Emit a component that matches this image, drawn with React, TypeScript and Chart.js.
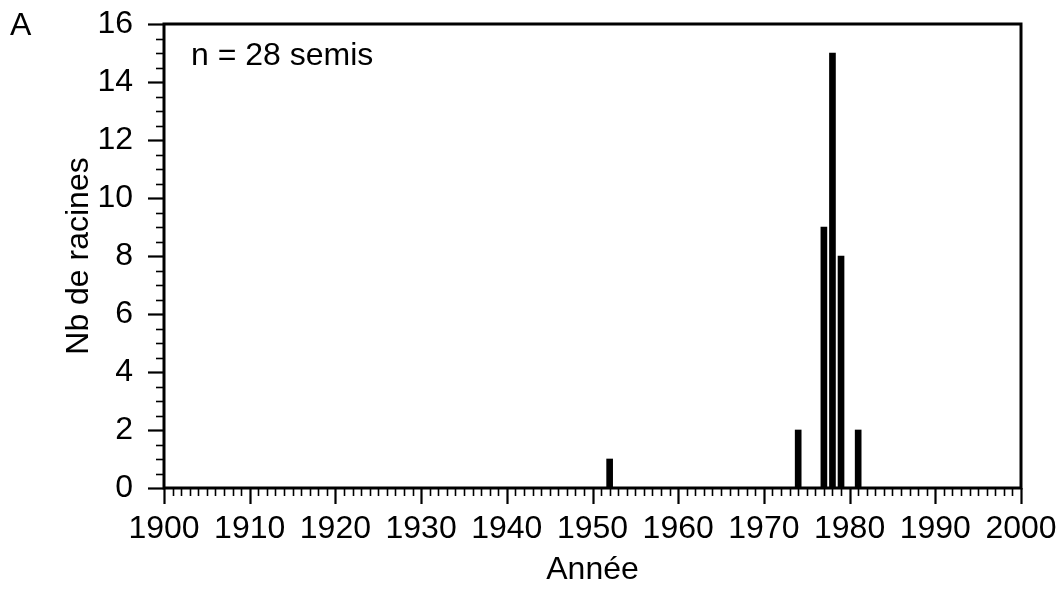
import React, { useEffect, useRef } from "react";
import { Chart, registerables } from "chart.js";

Chart.register(...registerables);

// Root counts per germination year
const years = [1952, 1974, 1977, 1978, 1979, 1981];
const rootCounts = [1, 2, 9, 15, 8, 2];

const xMin = 1900;
const xMax = 2000;
const xStep = 10;
const yMin = 0;
const yMax = 16;
const yStep = 2;

const panelLabel = "A";
const sampleNote = "n = 28 semis";
const xTitle = "Année";
const yTitle = "Nb de racines";

const FONT = "'Liberation Sans', Arial, Helvetica, sans-serif";
const FONT_SIZE = 32;

// Frame around the plot area plus major/minor tick marks on both axes
const frameAndTicks = {
  id: "frameAndTicks",
  afterDatasetsDraw(chart: any) {
    const { ctx, chartArea, scales } = chart;
    const x = scales.x;
    const y = scales.y;
    ctx.save();
    ctx.strokeStyle = "#000";
    ctx.lineCap = "butt";

    // x ticks: minor every year, major every decade
    for (let v = xMin; v <= xMax; v += 1) {
      const px = Math.round(x.getPixelForValue(v)) + 0.5;
      const major = v % xStep === 0;
      ctx.lineWidth = major ? 2.2 : 1.6;
      ctx.beginPath();
      ctx.moveTo(px, chartArea.bottom);
      ctx.lineTo(px, chartArea.bottom + (major ? 16 : 8));
      ctx.stroke();
    }

    // y ticks: minor every 0.5, major every 2
    for (let v = yMin; v <= yMax + 1e-9; v += 0.5) {
      const py = Math.round(y.getPixelForValue(v)) + 0.5;
      const major = Math.abs(v % yStep) < 1e-9;
      ctx.lineWidth = major ? 2.2 : 1.6;
      ctx.beginPath();
      ctx.moveTo(chartArea.left, py);
      ctx.lineTo(chartArea.left - (major ? 16 : 8), py);
      ctx.stroke();
    }

    // plot frame
    ctx.lineWidth = 3;
    ctx.strokeRect(
      chartArea.left,
      chartArea.top,
      chartArea.right - chartArea.left,
      chartArea.bottom - chartArea.top
    );
    ctx.restore();
  },
  afterDraw(chart: any) {
    const { ctx, chartArea } = chart;
    ctx.save();
    ctx.fillStyle = "#000";
    ctx.font = `${FONT_SIZE}px ${FONT}`;
    ctx.textBaseline = "alphabetic";
    ctx.textAlign = "left";
    ctx.fillText(panelLabel, 10, 35);
    ctx.fillText(sampleNote, chartArea.left + 27, 65);
    ctx.restore();
  },
};

export default function App() {
  const canvasRef = useRef<HTMLCanvasElement | null>(null);

  useEffect(() => {
    if (!canvasRef.current) return;
    const chart = new Chart(canvasRef.current, {
      type: "bar",
      data: {
        datasets: [
          {
            data: years.map((yr, i) => ({ x: yr, y: rootCounts[i] })),
            backgroundColor: "#000",
            borderWidth: 0,
            barThickness: 6,
          },
        ],
      },
      options: {
        responsive: false,
        animation: false,
        devicePixelRatio: 1,
        layout: { padding: { top: 24, right: 43, left: 0, bottom: 0 } },
        plugins: {
          legend: { display: false },
          tooltip: { enabled: false },
        },
        scales: {
          x: {
            type: "linear",
            min: xMin,
            max: xMax,
            offset: false,
            grid: { display: false, offset: false },
            border: { display: false },
            ticks: {
              stepSize: xStep,
              color: "#000",
              font: { family: FONT, size: FONT_SIZE },
              padding: 14,
              maxRotation: 0,
              autoSkip: false,
              callback: (v: any) => String(v),
            },
            title: {
              display: true,
              text: xTitle,
              color: "#000",
              font: { family: FONT, size: FONT_SIZE },
              padding: { top: 0, bottom: 1 },
            },
            afterFit: (scale: any) => {
              scale.height = 102;
              scale.paddingLeft = 0;
              scale.paddingRight = 0;
            },
          },
          y: {
            min: yMin,
            max: yMax,
            grid: { display: false },
            border: { display: false },
            ticks: {
              stepSize: yStep,
              color: "#000",
              font: { family: FONT, size: FONT_SIZE },
              padding: 23,
            },
            title: {
              display: true,
              text: yTitle,
              color: "#000",
              font: { family: FONT, size: FONT_SIZE },
              padding: { top: 60, bottom: 0 },
            },
            afterFit: (scale: any) => {
              scale.width = 164;
              scale.paddingTop = 0;
              scale.paddingBottom = 0;
            },
          },
        },
      },
      plugins: [frameAndTicks],
    });
    return () => chart.destroy();
  }, []);

  return (
    <div style={{ position: "fixed", left: 0, top: 0, width: 1064, height: 590, background: "#fff" }}>
      <canvas ref={canvasRef} width={1064} height={590} style={{ width: 1064, height: 590, display: "block" }} />
    </div>
  );
}
